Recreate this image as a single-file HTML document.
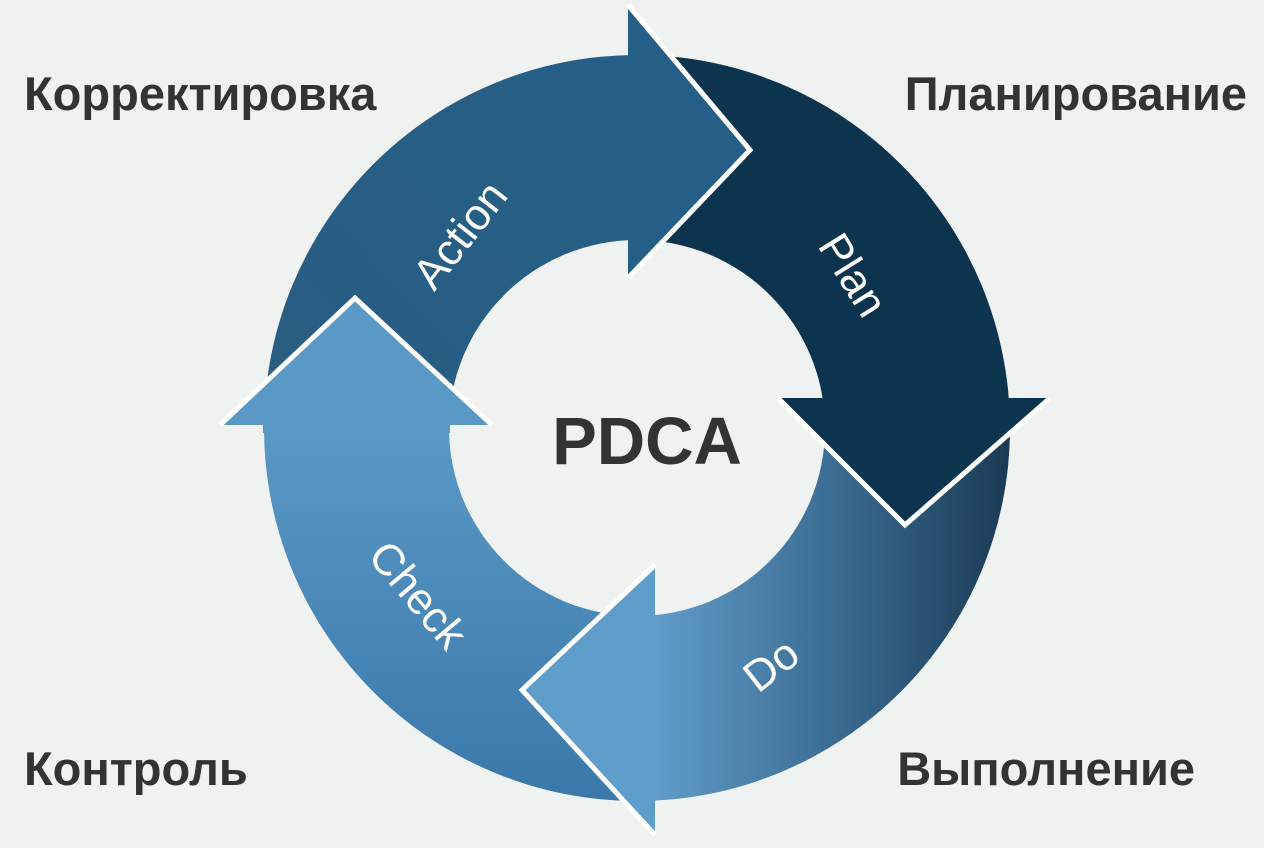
<!DOCTYPE html>
<html><head><meta charset="utf-8"><style>
html,body{margin:0;padding:0;background:#f0f2f1;}
svg{display:block}
</style></head><body>
<svg width="1264" height="848" viewBox="0 0 1264 848" xmlns="http://www.w3.org/2000/svg">
<defs>
<linearGradient id="ga" x1="0" y1="1" x2="1" y2="0"><stop offset="0" stop-color="#2a5d82"/><stop offset="1" stop-color="#255e86"/></linearGradient>
<linearGradient id="gd" x1="0" y1="0" x2="1" y2="0"><stop offset="0" stop-color="#64a1cf"/><stop offset="0.5" stop-color="#3d6f96"/><stop offset="1" stop-color="#1a3a55"/></linearGradient>
<linearGradient id="gc" x1="0" y1="0" x2="0" y2="1"><stop offset="0" stop-color="#5a98c6"/><stop offset="1" stop-color="#3a78aa"/></linearGradient>
</defs>
<rect width="1264" height="848" fill="#f0f2f1"/>
<g stroke="none">
<path d="M264,428 A373,373 0 0 1 637,55 L637,240 A188,188 0 0 0 449,428 Z" fill="url(#ga)"/>
<path d="M637,55 A373,373 0 0 1 1010,428 L825,428 A188,188 0 0 0 637,240 Z" fill="#0d344f"/>
<path d="M1010,428 A373,373 0 0 1 637,801 L637,616 A188,188 0 0 0 825,428 Z" fill="url(#gd)"/>
<path d="M637,801 A373,373 0 0 1 264,428 L449,428 A188,188 0 0 0 637,616 Z" fill="url(#gc)"/>
</g>
<polygon points="628,5 750,150 628,278" fill="#255e86"/>
<polyline points="628,5 750,150 628,278" fill="none" stroke="#fff" stroke-width="5"/>
<polygon points="778,398 1050,398 905,525" fill="#0d344f"/>
<polyline points="778,398 905,525 1050,398" fill="none" stroke="#fff" stroke-width="5"/>
<polygon points="655,565 522,690 655,835" fill="#5f9dcb"/>
<polyline points="655,565 522,690 655,835" fill="none" stroke="#fff" stroke-width="5"/>
<polygon points="220,425 355,298 492,425 450,425 450,433 263,433 263,425" fill="#5a98c6"/>
<polyline points="220,425 355,298 492,425" fill="none" stroke="#fff" stroke-width="5"/>
<g fill="#ffffff" font-family="Liberation Sans, sans-serif" font-size="44" text-anchor="middle">
<text transform="translate(460,235) rotate(-52)" dy="15">Action</text>
<text transform="translate(853,275) rotate(58)" dy="15">Plan</text>
<text transform="translate(771,665) rotate(-38)" dy="15">Do</text>
<text transform="translate(418,595) rotate(50)" dy="15">Check</text>
</g>
<g fill="#333333" font-family="Liberation Sans, sans-serif" font-weight="bold">
<text x="647" y="464" font-size="67" text-anchor="middle">PDCA</text>
<text x="24" y="110" font-size="47">Корректировка</text>
<text x="1247" y="110" font-size="47" text-anchor="end">Планирование</text>
<text x="24" y="785" font-size="47">Контроль</text>
<text x="1195" y="785" font-size="47" text-anchor="end">Выполнение</text>
</g>
</svg>
</body></html>
